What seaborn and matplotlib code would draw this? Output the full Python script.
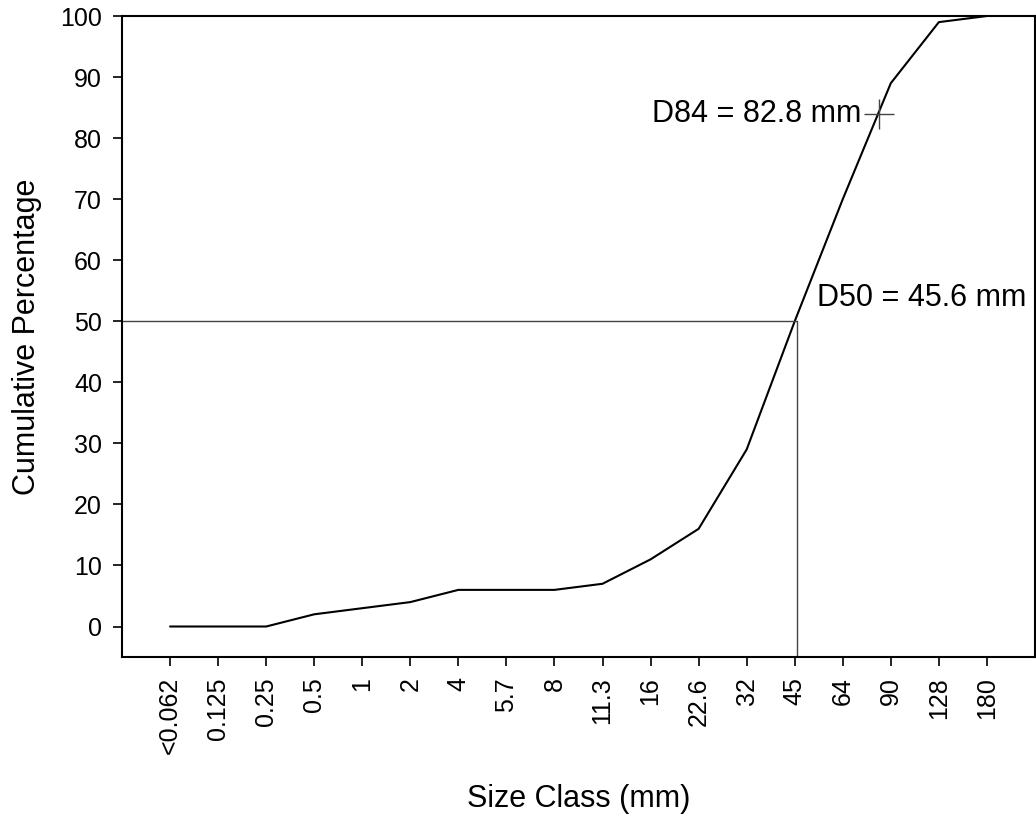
import numpy as np
import pandas as pd
import matplotlib
matplotlib.use('Agg')
import matplotlib.pyplot as plt
import seaborn as sns

sizes = ['<0.062', '0.125', '0.25', '0.5', '1', '2', '4', '5.7', '8', '11.3',
         '16', '22.6', '32', '45', '64', '90', '128', '180']
cum_pct = [0, 0, 0, 2, 3, 4, 6, 6, 6, 7, 11, 16, 29, 50, 70, 89, 99, 100]
d50 = 45.6
d84 = 82.8

sns.set_style('ticks')
plt.rcParams['font.family'] = ['Liberation Sans', 'DejaVu Sans']
plt.rcParams['text.color'] = 'black'
plt.rcParams['axes.labelcolor'] = 'black'
plt.rcParams['xtick.color'] = 'black'
plt.rcParams['ytick.color'] = 'black'

df = pd.DataFrame({'pos': np.arange(len(sizes)), 'pct': cum_pct})


def class_pos(d, lo_idx, lo, hi):
    # position between two size-class ticks, log interpolated
    return lo_idx + np.log(d / lo) / np.log(hi / lo)


x50 = class_pos(d50, 13, 45.0, 64.0)
x84 = class_pos(d84, 14, 64.0, 90.0)

fig = plt.figure(figsize=(10.36, 8.17), dpi=100)
ax = fig.add_axes([0.1178, 0.1958, 0.8812, 0.7846])

sns.lineplot(data=df, x='pos', y='pct', color='black', linewidth=1.5, ax=ax)

ax.plot([-1, x50], [50, 50], color='#444444', linewidth=1)
ax.plot([x50, x50], [-5, 50], color='#444444', linewidth=1)
ax.plot([x84], [84], marker='+', markersize=21, markeredgewidth=1,
        color='#444444', linestyle='none')

ax.annotate(f'D50 = {d50} mm', xy=(x50, 50), xytext=(14.5, 16.5),
            textcoords='offset points', ha='left', va='center', fontsize=22)
ax.annotate(f'D84 = {d84} mm', xy=(x84, 84), xytext=(-13, 0),
            textcoords='offset points', ha='right', va='center', fontsize=22)

ax.set_xlim(-1, 18)
ax.set_ylim(-5, 100)
ax.set_xticks(np.arange(len(sizes)))
ax.set_xticklabels(sizes, rotation=90, fontsize=18)
ax.set_yticks(np.arange(0, 101, 10))
ax.tick_params(axis='y', labelsize=18)
ax.tick_params(length=6.5, width=1.2, pad=8)
for s in ax.spines.values():
    s.set_color('black')
    s.set_linewidth(1.5)

ax.set_xlabel('Size Class (mm)', fontsize=22, labelpad=21)
ax.set_ylabel('Cumulative Percentage', fontsize=22, labelpad=13)

fig.savefig('out.png', dpi=100)
